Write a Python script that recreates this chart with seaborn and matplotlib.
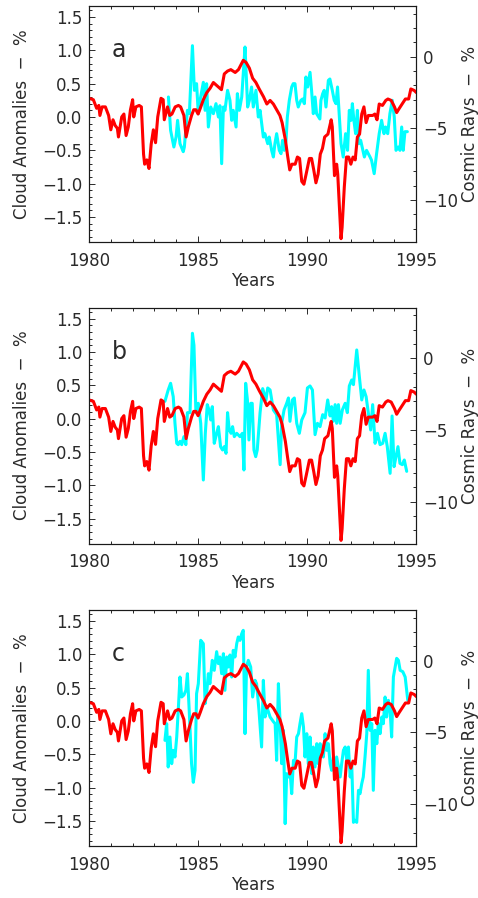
import matplotlib
matplotlib.use('Agg')
import matplotlib.pyplot as plt
from matplotlib.ticker import MultipleLocator
import seaborn as sns

# cosmic ray flux, % (right axis) - same curve in every panel
cr_years = [1980.0, 1980.2, 1980.35, 1980.45, 1980.5, 1980.6, 1980.75, 1980.9, 1981.0, 1981.1,
            1981.2, 1981.3, 1981.35, 1981.5, 1981.6, 1981.7, 1981.8, 1981.9, 1982.0, 1982.05,
            1982.15, 1982.3, 1982.4, 1982.5, 1982.55, 1982.65, 1982.75, 1982.85, 1982.95, 1983.05,
            1983.15, 1983.3, 1983.4, 1983.45, 1983.6, 1983.7, 1983.8, 1983.95, 1984.1, 1984.2,
            1984.35, 1984.45, 1984.55, 1984.7, 1984.8, 1984.9, 1985.0, 1985.1, 1985.24, 1985.4,
            1985.55, 1985.7, 1985.85, 1986.07, 1986.2, 1986.35, 1986.5, 1986.7, 1986.85, 1987.07,
            1987.2, 1987.35, 1987.5, 1987.65, 1987.8, 1988.0, 1988.15, 1988.3, 1988.45, 1988.6,
            1988.75, 1988.85, 1989.0, 1989.1, 1989.2, 1989.3, 1989.45, 1989.55, 1989.65, 1989.75,
            1989.85, 1989.95, 1990.1, 1990.2, 1990.3, 1990.4, 1990.5, 1990.6, 1990.7, 1990.8,
            1990.95, 1991.1, 1991.15, 1991.25, 1991.35, 1991.4, 1991.5, 1991.55, 1991.6, 1991.7,
            1991.8, 1991.9, 1992.0, 1992.1, 1992.2, 1992.3, 1992.4, 1992.5, 1992.6, 1992.7,
            1992.8, 1993.0, 1993.1, 1993.2, 1993.3, 1993.45, 1993.6, 1993.7, 1993.85, 1994.0,
            1994.1, 1994.2, 1994.35, 1994.5, 1994.65, 1994.75, 1994.9, 1995.0]
cr_values = [-2.9, -3.0, -3.6, -3.4, -4.1, -3.5, -3.5, -4.1, -5.1, -4.4,
             -4.8, -5.0, -5.6, -4.2, -4.0, -5.5, -4.9, -3.7, -3.0, -4.2,
             -3.5, -3.4, -3.5, -6.8, -7.5, -7.2, -7.8, -6.1, -5.1, -6.0,
             -4.2, -2.9, -3.0, -4.4, -3.5, -4.1, -4.0, -3.5, -3.4, -3.5,
             -4.1, -5.6, -4.9, -4.1, -3.7, -3.7, -4.0, -3.6, -3.0, -2.5,
             -2.2, -1.8, -2.0, -2.3, -1.2, -1.0, -0.9, -1.1, -0.9, -0.25,
             -0.4, -0.8, -1.5, -1.8, -2.25, -2.8, -3.3, -3.05, -3.3, -3.7,
             -4.1, -4.6, -5.8, -6.9, -7.9, -7.5, -7.5, -7.0, -7.1, -8.7,
             -8.9, -8.2, -7.1, -7.1, -7.9, -8.8, -8.2, -6.8, -6.4, -5.6,
             -5.4, -4.4, -4.9, -8.3, -7.5, -8.2, -11.2, -12.7, -11.9, -9.1,
             -7.0, -7.0, -7.5, -7.0, -7.2, -5.6, -5.4, -4.0, -3.5, -4.6,
             -4.1, -4.1, -4.0, -4.4, -3.3, -3.4, -3.05, -2.95, -3.05, -3.5,
             -3.9, -3.65, -3.3, -2.95, -2.95, -2.25, -2.35, -2.5]

# cloud anomalies, % (left axis)
cloud_a_years = [1983.64, 1983.74, 1983.89, 1983.99, 1984.06, 1984.17, 1984.32, 1984.37, 1984.51, 1984.60,
                 1984.74, 1984.83, 1984.93, 1985.01, 1985.09, 1985.24, 1985.32, 1985.39, 1985.47, 1985.58,
                 1985.70, 1985.82, 1985.93, 1986.00, 1986.08, 1986.16, 1986.23, 1986.35, 1986.46, 1986.54,
                 1986.61, 1986.74, 1986.80, 1986.89, 1987.00, 1987.15, 1987.19, 1987.27, 1987.35, 1987.45,
                 1987.53, 1987.65, 1987.76, 1987.84, 1987.99, 1988.06, 1988.19, 1988.26, 1988.37, 1988.45,
                 1988.52, 1988.60, 1988.72, 1988.80, 1988.87, 1988.95, 1989.03, 1989.09, 1989.18, 1989.29,
                 1989.36, 1989.44, 1989.52, 1989.59, 1989.71, 1989.79, 1989.87, 1989.94, 1990.02, 1990.13,
                 1990.20, 1990.28, 1990.36, 1990.43, 1990.58, 1990.63, 1990.71, 1990.78, 1990.86, 1990.97,
                 1991.04, 1991.15, 1991.24, 1991.32, 1991.39, 1991.55, 1991.65, 1991.76, 1991.85, 1991.93,
                 1992.01, 1992.07, 1992.14, 1992.22, 1992.30, 1992.37, 1992.45, 1992.62, 1992.72, 1992.88,
                 1992.95, 1993.07, 1993.18, 1993.30, 1993.41, 1993.52, 1993.59, 1993.69, 1993.79, 1993.90,
                 1993.99, 1994.07, 1994.17, 1994.25, 1994.33, 1994.40, 1994.48, 1994.59]
cloud_a_values = [0.30, -0.20, -0.45, -0.30, -0.05, -0.40, -0.52, -0.45, 0.10, 0.05,
                  1.07, 0.40, 0.50, 0.05, 0.25, 0.52, 0.10, 0.50, -0.15, 0.15,
                  0.05, 0.20, 0.00, 0.17, -0.70, 0.15, 0.10, 0.40, 0.25, -0.05,
                  0.10, -0.15, 0.35, 0.10, 0.30, 1.05, 0.75, 0.15, 0.25, 0.45,
                  0.15, 0.40, 0.00, 0.10, -0.30, -0.25, -0.40, -0.30, -0.50, -0.60,
                  -0.40, -0.25, -0.50, -0.55, -0.35, -0.50, -0.35, 0.00, 0.25, 0.45,
                  0.50, 0.50, 0.25, 0.15, 0.25, 0.27, 0.20, 0.60, 0.45, 0.67,
                  0.40, 0.05, 0.30, 0.05, -0.03, 0.25, 0.35, 0.40, 0.15, 0.55,
                  0.57, 0.40, 0.25, 0.20, 0.45, -0.40, -0.60, -0.25, -0.50, 0.10,
                  -0.05, 0.20, -0.05, -0.25, 0.10, -0.40, -0.35, -0.60, -0.50, -0.60,
                  -0.65, -0.85, -0.55, -0.25, -0.05, -0.25, -0.15, -0.25, 0.05, 0.25,
                  0.00, -0.50, -0.45, -0.50, -0.15, -0.50, -0.22, -0.22]

cloud_b_years = [1983.48, 1983.63, 1983.74, 1983.86, 1983.94, 1984.02, 1984.09, 1984.17, 1984.25, 1984.35,
                 1984.44, 1984.51, 1984.63, 1984.74, 1984.81, 1984.90, 1985.01, 1985.12, 1985.24, 1985.33,
                 1985.42, 1985.50, 1985.58, 1985.65, 1985.74, 1985.85, 1985.93, 1986.03, 1986.12, 1986.20,
                 1986.28, 1986.35, 1986.43, 1986.51, 1986.58, 1986.66, 1986.77, 1986.92, 1987.03, 1987.10,
                 1987.18, 1987.26, 1987.33, 1987.41, 1987.48, 1987.56, 1987.64, 1987.71, 1987.84, 1987.96,
                 1988.11, 1988.19, 1988.30, 1988.45, 1988.60, 1988.76, 1988.83, 1988.94, 1989.06, 1989.14,
                 1989.21, 1989.32, 1989.41, 1989.52, 1989.64, 1989.75, 1989.90, 1990.01, 1990.13, 1990.24,
                 1990.36, 1990.47, 1990.59, 1990.71, 1990.82, 1990.94, 1991.05, 1991.12, 1991.20, 1991.28,
                 1991.35, 1991.43, 1991.51, 1991.61, 1991.74, 1991.84, 1991.93, 1992.04, 1992.12, 1992.27,
                 1992.39, 1992.50, 1992.60, 1992.70, 1992.80, 1992.91, 1993.00, 1993.11, 1993.22, 1993.34,
                 1993.46, 1993.57, 1993.67, 1993.80, 1993.89, 1993.98, 1994.07, 1994.16, 1994.25, 1994.36,
                 1994.45, 1994.56]
cloud_b_values = [0.26, 0.43, 0.53, 0.33, -0.07, -0.37, -0.39, -0.34, -0.39, -0.27,
                  -0.39, 0.09, 0.09, 1.28, 1.10, 0.09, 0.23, -0.07, -0.92, -0.22,
                  0.21, 0.13, -0.02, 0.18, -0.37, -0.22, -0.12, -0.42, -0.47, -0.42,
                  -0.52, 0.09, -0.17, -0.22, -0.12, -0.27, -0.22, -0.27, -0.22, -0.77,
                  0.53, 0.28, -0.32, 0.23, 0.23, -0.47, -0.57, -0.47, 0.09, 0.45,
                  0.28, 0.46, 0.43, 0.13, 0.06, -0.69, -0.07, 0.13, 0.23, 0.31,
                  -0.04, 0.28, 0.31, -0.07, -0.22, -0.02, 0.09, 0.46, 0.49, 0.43,
                  -0.24, -0.07, -0.12, 0.06, 0.01, 0.28, 0.04, 0.18, -0.04, 0.21,
                  -0.07, 0.21, -0.07, 0.13, 0.23, 0.09, 0.49, 0.58, 0.51, 1.03,
                  0.63, 0.28, 0.43, 0.33, 0.09, -0.17, 0.21, -0.37, -0.22, -0.39,
                  -0.37, -0.22, -0.42, -0.82, 0.04, -0.72, -0.57, -0.42, -0.67, -0.69,
                  -0.62, -0.79]

cloud_c_years = [1983.48, 1983.56, 1983.63, 1983.71, 1983.79, 1983.86, 1983.94, 1984.02, 1984.09, 1984.17,
                 1984.25, 1984.35, 1984.44, 1984.51, 1984.60, 1984.70, 1984.78, 1984.86, 1984.93, 1985.01,
                 1985.12, 1985.24, 1985.32, 1985.39, 1985.47, 1985.54, 1985.65, 1985.74, 1985.85, 1985.93,
                 1986.00, 1986.08, 1986.16, 1986.23, 1986.31, 1986.38, 1986.46, 1986.54, 1986.61, 1986.69,
                 1986.77, 1986.84, 1986.92, 1987.00, 1987.07, 1987.15, 1987.22, 1987.30, 1987.41, 1987.50,
                 1987.61, 1987.68, 1987.79, 1987.91, 1987.99, 1988.07, 1988.15, 1988.30, 1988.45, 1988.53,
                 1988.60, 1988.68, 1988.76, 1988.83, 1988.91, 1988.99, 1989.06, 1989.14, 1989.21, 1989.29,
                 1989.37, 1989.44, 1989.52, 1989.60, 1989.67, 1989.75, 1989.83, 1989.90, 1989.98, 1990.05,
                 1990.13, 1990.21, 1990.28, 1990.36, 1990.44, 1990.51, 1990.59, 1990.67, 1990.74, 1990.82,
                 1990.89, 1990.97, 1991.05, 1991.12, 1991.20, 1991.28, 1991.35, 1991.51, 1991.58, 1991.66,
                 1991.74, 1991.81, 1991.89, 1991.97, 1992.04, 1992.12, 1992.19, 1992.27, 1992.35, 1992.42,
                 1992.50, 1992.57, 1992.65, 1992.73, 1992.80, 1992.88, 1992.96, 1993.03, 1993.11, 1993.19,
                 1993.26, 1993.34, 1993.42, 1993.49, 1993.57, 1993.64, 1993.72, 1993.80, 1993.87, 1993.95,
                 1994.03, 1994.10, 1994.18, 1994.26, 1994.38, 1994.49, 1994.56, 1994.61]
cloud_c_values = [-0.29, -0.04, -0.69, -0.24, -0.64, -0.44, -0.54, -0.24, 0.16, 0.66,
                  0.36, 0.39, 0.46, 0.71, 0.11, -0.64, -0.92, -0.74, 0.41, 0.56,
                  1.21, 1.16, 0.26, 0.41, 0.71, 0.56, 0.91, 0.76, 1.04, 0.86,
                  0.96, 0.71, 1.01, 0.46, 0.96, 0.81, 0.99, 0.66, 1.06, 0.96,
                  1.16, 1.26, 1.21, 1.31, 1.36, -0.19, 0.81, 0.91, 0.81, 0.36,
                  0.61, 0.56, 0.16, -0.39, 0.61, 0.06, 0.21, 0.06, -0.01, -0.04,
                  -0.59, 0.56, -0.04, -0.64, -0.14, -1.54, -0.79, -0.84, -0.74, -1.09,
                  -0.59, -0.64, -0.24, -0.19, -0.04, 0.11, -0.09, -0.54, -0.19, -0.64,
                  -0.24, -0.79, -0.39, -0.69, -0.34, -0.64, -0.34, -0.39, -0.54, -0.19,
                  -0.44, -0.34, -0.64, -0.74, -0.54, -0.69, -0.54, -0.84, -0.64, -0.44,
                  -0.39, -0.59, -0.39, -0.84, -0.64, -1.52, -1.49, -1.52, -1.04, -1.09,
                  -0.94, -0.84, -0.54, -0.19, 0.76, -0.14, -0.04, -1.04, -0.14, -0.34,
                  -0.04, -0.19, 0.06, -0.04, 0.36, 0.06, 0.31, 0.16, -0.24, 0.66,
                  0.81, 0.94, 0.91, 0.76, 0.74, 0.66, 0.46, 0.31]

panel_letters = ['a', 'b', 'c']
cloud_years = [cloud_a_years, cloud_b_years, cloud_c_years]
cloud_values = [cloud_a_values, cloud_b_values, cloud_c_values]

sns.set_style('ticks')
plt.rcParams['font.family'] = ['DejaVu Sans']
plt.rcParams['text.color'] = '#2a2a2a'
plt.rcParams['axes.labelcolor'] = '#2a2a2a'

W, H = 478, 898
fig = plt.figure(figsize=(W / 100, H / 100), dpi=100)

# axes top/bottom in pixels
panel_px = [(6, 242), (307.6, 543.7), (610, 846)]
left_px, right_px = 89, 416.3

for i, (top, bottom) in enumerate(panel_px):
  ax = fig.add_axes([left_px / W, 1 - bottom / H, (right_px - left_px) / W, (bottom - top) / H])
  ax2 = ax.twinx()

  sns.lineplot(x=cloud_years[i], y=cloud_values[i], ax=ax, color='#00ffff', lw=2.2,
               sort=False, estimator=None)
  sns.lineplot(x=cr_years, y=cr_values, ax=ax2, color='#ff0000', lw=2.2,
               sort=False, estimator=None)

  ax.set_xlim(1980, 1995)
  ax.set_ylim(-1.875, 1.665)
  ax2.set_ylim(-12.93, 3.54)

  ax.xaxis.set_major_locator(MultipleLocator(5))
  ax.xaxis.set_minor_locator(MultipleLocator(1))
  ax.yaxis.set_major_locator(MultipleLocator(0.5))
  ax.yaxis.set_minor_locator(MultipleLocator(0.1))
  ax2.yaxis.set_major_locator(MultipleLocator(5))
  ax2.yaxis.set_minor_locator(MultipleLocator(1))

  for a in (ax, ax2):
    a.tick_params(which='major', direction='in', length=4.5, width=0.7, labelsize=12, colors='#2a2a2a')
    a.tick_params(which='minor', direction='in', length=2.3, width=0.7)
    for s in a.spines.values():
      s.set_linewidth(0.8)
      s.set_color('#1a1a1a')
  ax.tick_params(axis='x', which='both', top=True, pad=7)
  ax.tick_params(axis='y', which='both', left=True, right=False, pad=5)
  ax2.tick_params(axis='y', which='both', right=True, pad=5)

  ax.set_xlabel('Years', fontsize=12, labelpad=1.5)
  ax.set_ylabel('Cloud Anomalies  \u2212  %', fontsize=12)
  ax.yaxis.set_label_coords(-0.178, 0.5)
  ax2.set_ylabel('Cosmic Rays  \u2212  %', fontsize=12)
  ax2.yaxis.set_label_coords(1.136, 0.5)

  ax.text(1981.05, 0.9, panel_letters[i], fontsize=17, ha='left', va='baseline')

fig.savefig('out.png', dpi=100)
